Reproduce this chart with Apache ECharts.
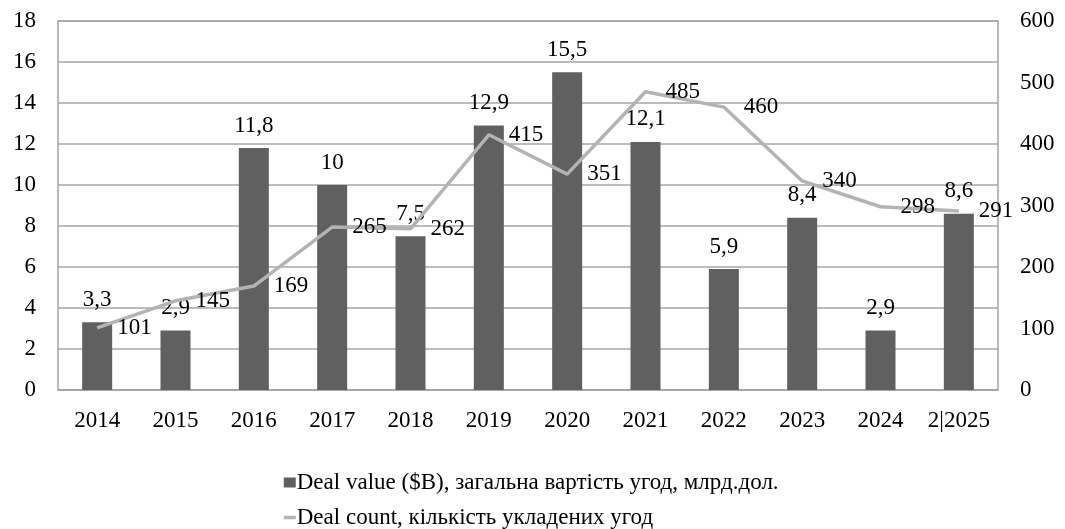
<!DOCTYPE html>
<html><head><meta charset="utf-8">
<script src="https://cdn.jsdelivr.net/npm/echarts@6/dist/echarts.min.js"></script>
<style>html,body{margin:0;padding:0;background:#fff}#c{width:1065px;height:529px}</style>
</head><body><div id="c"></div>
<script>
const categories = ['2014','2015','2016','2017','2018','2019','2020','2021','2022','2023','2024','2|2025'];
const dealValue = [3.3, 2.9, 11.8, 10, 7.5, 12.9, 15.5, 12.1, 5.9, 8.4, 2.9, 8.6];
const dealCount = [101, 145, 169, 265, 262, 415, 351, 485, 460, 340, 298, 291];
const leftTicks = [0, 18, 2];
const rightTicks = [0, 600, 100];
const seriesNames = ['Deal value ($B), загальна вартість угод, млрд.дол.', 'Deal count, кількість укладених угод'];

const font = "'Liberation Serif', 'Times New Roman', serif";
const fmt = v => String(v).replace('.', ',');
const chart = echarts.init(document.getElementById('c'));
chart.setOption({
  animation: false,
  textStyle: {fontFamily: font},
  grid: {left: 58, right: 67, top: 21, bottom: 139, show: true, borderColor: '#a6a6a6', borderWidth: 1.5},
  legend: {
    orient: 'vertical', left: 282, top: 471, align: 'left', itemGap: 12, padding: 0,
    itemWidth: 12, itemHeight: 10,
    textStyle: {fontFamily: font, fontSize: 23, color: '#000', padding: [0,0,0,-4]},
    data: [
      {name: seriesNames[0], icon: 'rect'},
      {name: seriesNames[1], itemStyle: {color: 'rgba(0,0,0,0)', borderWidth: 0}, lineStyle: {color: '#b3b3b3', width: 3.5}}
    ]
  },
  xAxis: {
    type: 'category', data: categories,
    axisLine: {lineStyle: {color: '#a6a6a6', width: 1.5}},
    axisTick: {show: false},
    axisLabel: {interval: 0, hideOverlap: false, fontFamily: font, fontSize: 23, color: '#000', margin: 19}
  },
  yAxis: [
    {type: 'value', min: leftTicks[0], max: leftTicks[1], interval: leftTicks[2],
     axisLine: {show: false}, axisTick: {show: false},
     splitLine: {lineStyle: {color: '#a6a6a6', width: 1.5}},
     axisLabel: {fontFamily: font, fontSize: 23, color: '#000', margin: 22}},
    {type: 'value', min: rightTicks[0], max: rightTicks[1], interval: rightTicks[2],
     axisLine: {show: false}, axisTick: {show: false}, splitLine: {show: false},
     axisLabel: {fontFamily: font, fontSize: 23, color: '#000', margin: 22}}
  ],
  series: [
    {name: seriesNames[0], type: 'bar', data: dealValue, barWidth: 30,
     itemStyle: {color: '#606060'},
     label: {show: true, position: 'top', distance: 11, fontFamily: font, fontSize: 23, color: '#000', formatter: p => fmt(p.value)}},
    {name: seriesNames[1], type: 'line', yAxisIndex: 1, data: dealCount, showSymbol: true, symbol: 'circle', symbolSize: 0.01,
     lineStyle: {color: '#b3b3b3', width: 3.5}, itemStyle: {color: '#b3b3b3'},
     label: {show: true, position: 'right', distance: 20, fontFamily: font, fontSize: 23, color: '#000'}}
  ]
});
</script></body></html>
